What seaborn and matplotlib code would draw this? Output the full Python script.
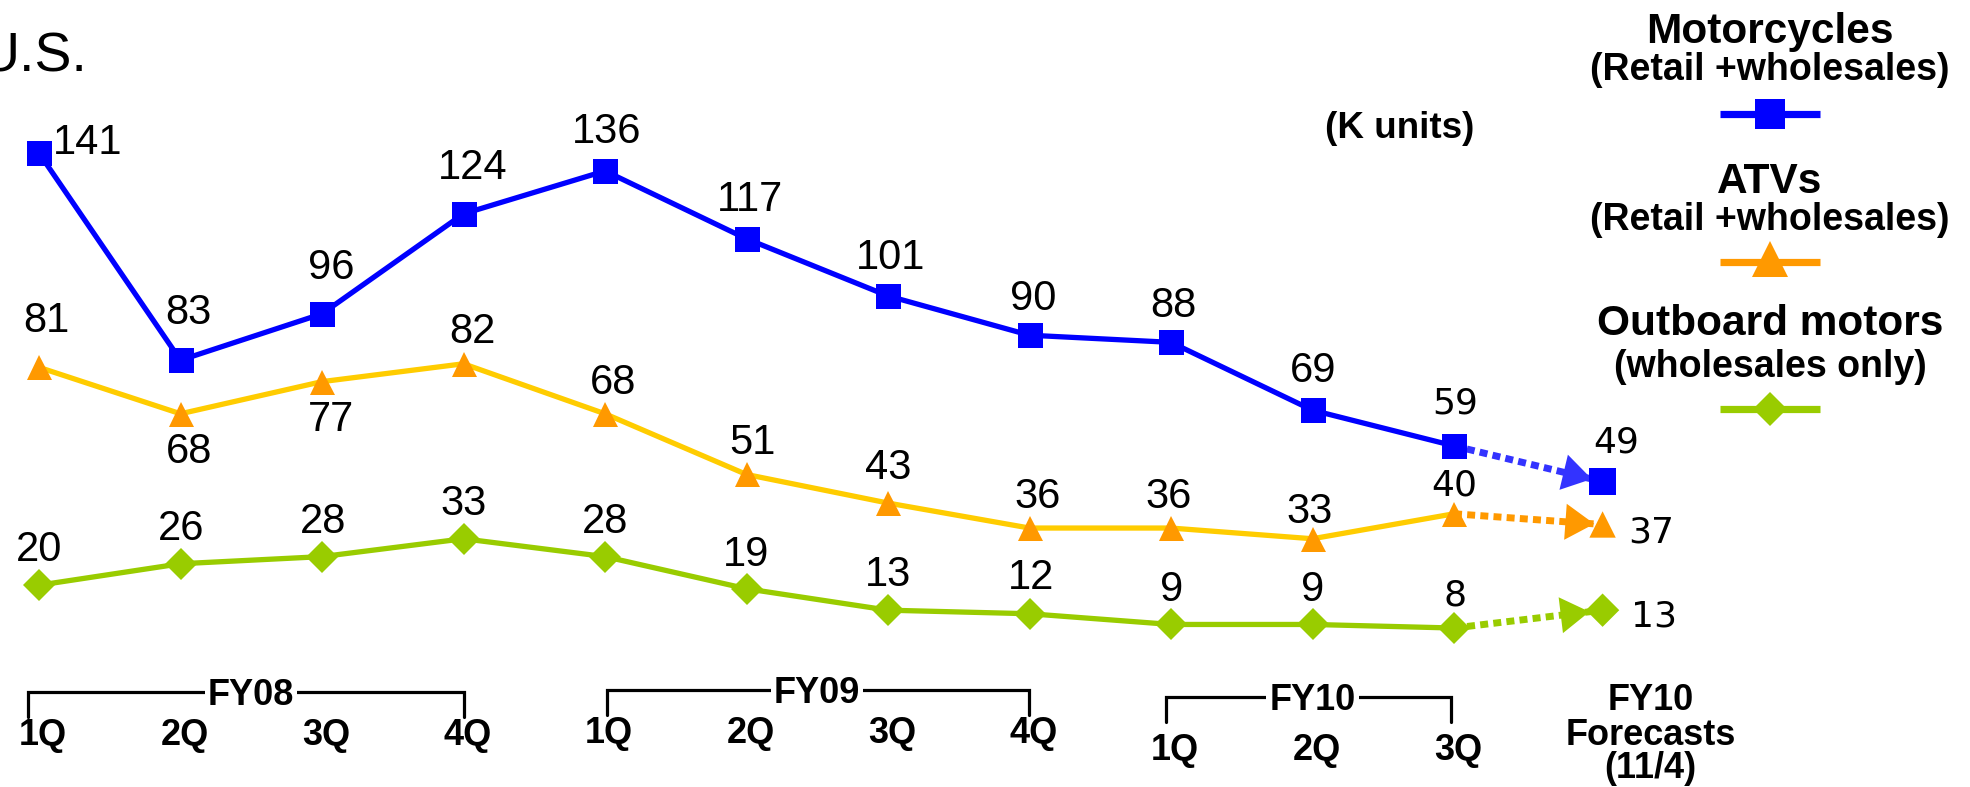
import numpy as np
import pandas as pd
import matplotlib
matplotlib.use("Agg")
import matplotlib.pyplot as plt
import matplotlib.transforms as mtransforms
import seaborn as sns

# ---- data (K units) ----
quarters = ["1Q", "2Q", "3Q", "4Q", "1Q", "2Q", "3Q", "4Q", "1Q", "2Q", "3Q"]
fiscal_years = ["FY08", "FY09", "FY10"]
motorcycles = [141, 83, 96, 124, 136, 117, 101, 90, 88, 69, 59]
atvs = [81, 68, 77, 82, 68, 51, 43, 36, 36, 33, 40]
outboard = [20, 26, 28, 33, 28, 19, 13, 12, 9, 9, 8]
motorcycles_forecast = 49
atvs_forecast = 37
outboard_forecast = 13
series_names = ["Motorcycles", "ATVs", "Outboard motors"]
series_notes = ["(Retail +wholesales)", "(Retail +wholesales)", "(wholesales only)"]
forecast_label = ["FY10", "Forecasts", "(11/4)"]

# ---- canvas ----
W, H = 1970, 787
sns.set_theme(style="white")
plt.rcParams["font.family"] = ["Liberation Sans", "DejaVu Sans"]
plt.rcParams["text.color"] = "black"

fig = plt.figure(figsize=(W / 100, H / 100), dpi=100)
ax = fig.add_axes([0, 0, 1, 1])
ax.set_axis_off()

X0, DX = 39.0, 141.5      # pixel of first quarter, pixels per quarter
Y0, DY = 656.6, 3.571     # pixel of value 0, pixels per K unit
ax.set_xlim(-X0 / DX, (W - X0) / DX)
ax.set_ylim((Y0 - H) / DY, Y0 / DY)

# top-left pixel coordinates
px = mtransforms.Affine2D().scale(1 / W, -1 / H).translate(0, 1) + fig.transFigure
xdata_ypx = mtransforms.blended_transform_factory(ax.transData, px)

pos = np.arange(len(quarters))
fpos = pos[-1] + 1.05

ARIAL = ["Liberation Sans", "DejaVu Sans"]
DEJAVU = ["DejaVu Sans"]

series = [
    dict(vals=motorcycles, fc=motorcycles_forecast, line="#0000FF", mark="#0000FF",
         dot="#3333FF", m="s", ms=18, fms=19, head_gap=8,
         up=[14.5, 51, 50, 50, 43, 43, 42, 40, 40, 43, 46],
         dx=[49, 8, 9, 9, 2, 4, 3, 4, 2, 1, 1], fup=42, fdx=14,
         leg_y=114, leg_ms=22),
    dict(vals=atvs, fc=atvs_forecast, line="#FFCC00", mark="#FF9900",
         dot="#FF9900", m="^", ms=18, fms=19, head_gap=6,
         up=[50, -34, -34, 36, 35, 35, 39, 35, 35, 31, 31],
         dx=[7, 9, 9, 9, 8, 6, 0, 8, -2, -3, 0], fup=-5, fdx=49,
         leg_y=262, leg_ms=26),
    dict(vals=outboard, fc=outboard_forecast, line="#99CC00", mark="#99CC00",
         dot="#99CC00", m="D", ms=16, fms=17, head_gap=9.5,
         up=[39, 39, 39, 39, 39, 38, 39, 40, 38, 38, 36],
         dx=[0, 1, 1, 0, 0, 0, 0, 2, 1, 0, 1], fup=-3, fdx=51,
         leg_y=409, leg_ms=17),
]


def value_label(x, y, text, dx, up, last):
    fam = DEJAVU if last else ARIAL
    size = 26 if last else 30
    cap = (0.729 if last else 0.716) * size / 0.72
    ax.annotate(text, (x, y), xytext=(dx, up - cap / 2), textcoords="offset pixels",
                ha="center", va="baseline", fontsize=size, family=fam,
                color="black", zorder=6)


for s in series:
    df = pd.DataFrame({"pos": pos, "value": s["vals"]})
    sns.lineplot(data=df, x="pos", y="value", ax=ax, color=s["line"], lw=3.8,
                 marker=s["m"], markersize=s["ms"], markerfacecolor=s["mark"],
                 markeredgecolor=s["mark"], markeredgewidth=0, zorder=4,
                 legend=False)

    # dotted forecast connector with arrow head
    fdf = pd.DataFrame({"pos": [pos[-1], fpos], "value": [s["vals"][-1], s["fc"]]})
    sns.lineplot(data=fdf, x="pos", y="value", ax=ax, color=s["dot"], lw=5,
                 linestyle=(0, (1.15, 0.75)), zorder=2, legend=False)
    back = 0.3
    ax.annotate("", xy=(fpos, s["fc"]),
                xytext=(fpos - back * (fpos - pos[-1]), s["fc"] - back * (s["fc"] - s["vals"][-1])),
                arrowprops=dict(arrowstyle="-|>,head_length=0.8,head_width=0.5",
                                color=s["dot"], lw=0, shrinkA=0, shrinkB=s["head_gap"],
                                mutation_scale=26),
                zorder=3)

    # forecast marker
    sns.scatterplot(x=[fpos], y=[s["fc"]], ax=ax, marker=s["m"], s=s["fms"] ** 2,
                    color=s["mark"], edgecolor="none", linewidth=0, zorder=5,
                    legend=False)

    for i, v in enumerate(s["vals"]):
        value_label(pos[i], v, str(v), s["dx"][i], s["up"][i], i == len(pos) - 1)
    value_label(fpos, s["fc"], str(s["fc"]), s["fdx"], s["fup"], True)

# ---- key on the right ----
title_base = [43, 193, 335]
note_base = [80, 230, 377]
for k, s in enumerate(series):
    ax.text(1770, title_base[k], series_names[k], transform=px, ha="center",
            va="baseline", fontsize=30.5, fontweight="bold", family=ARIAL)
    ax.text(1770, note_base[k], series_notes[k], transform=px, ha="center",
            va="baseline", fontsize=27, fontweight="bold", family=ARIAL)
    ax.plot([1720, 1820], [s["leg_y"], s["leg_y"]], transform=px,
            color=s["line"] if k != 1 else s["mark"],
            lw=5.2, solid_capstyle="butt", clip_on=False, zorder=4)
    ax.plot([1770], [s["leg_y"] - (3 if k == 1 else 0)], transform=px, marker=s["m"],
            markersize=s["leg_ms"], color=s["mark"], markeredgewidth=0,
            clip_on=False, zorder=5)

ax.text(1400, 138, "(K units)", transform=px, ha="center", va="baseline",
        fontsize=26.5, fontweight="bold", family=ARIAL)
ax.text(-20, 71, "U.S.", transform=px, ha="left", va="baseline", fontsize=40,
        family=ARIAL)

# ---- category axis: quarters grouped by fiscal year ----
groups = [(0, 3, 1.5, 692, 717, 705, 745, -11, 0),
          (4, 7, 5.5, 690, 715, 703, 743, 2, -1),
          (8, 10, 9.0, 697, 722, 710, 760, -5, -3)]
for fy, (a, b, cx, ly, ty, tb, qb, la, rb) in zip(fiscal_years, groups):
    xa = pos[a] + la / DX
    xb = pos[b] + rb / DX
    ax.plot([xa, xa, xb, xb], [ty, ly, ly, ty], transform=xdata_ypx, color="black",
            lw=2.3, solid_joinstyle="miter", clip_on=False, zorder=2)
    ax.text(cx, tb, fy, transform=xdata_ypx, ha="center", va="baseline",
            fontsize=26, fontweight="bold", family=ARIAL, zorder=3,
            bbox=dict(boxstyle="square,pad=0.08", fc="white", ec="none"))
    for i in range(a, b + 1):
        ax.annotate(quarters[i], (pos[i], qb), xycoords=xdata_ypx, xytext=(4, 0),
                    textcoords="offset pixels", ha="center", va="baseline",
                    fontsize=26, fontweight="bold", family=ARIAL)

for line, base in zip(forecast_label, [710, 745, 778]):
    ax.text(fpos + 0.34, base, line, transform=xdata_ypx, ha="center", va="baseline",
            fontsize=26, fontweight="bold", family=ARIAL)

fig.savefig("out.png", dpi=100, facecolor="white")
